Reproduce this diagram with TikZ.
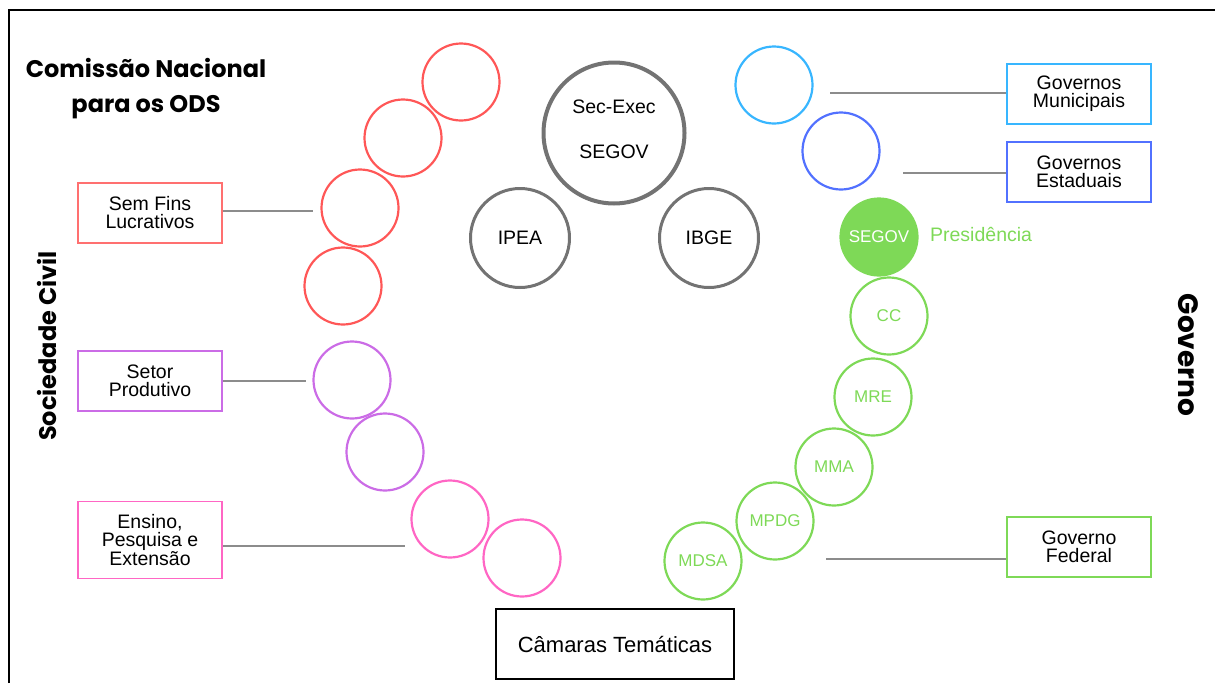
\documentclass[tikz,border=0pt]{standalone}
\usepackage{fontspec}
\setmainfont{Liberation Sans}
\newfontfamily\titlefont{Poppins}
\usetikzlibrary{positioning}

\definecolor{civred}{HTML}{FF5757}
\definecolor{civpurple}{HTML}{CB6CE6}
\definecolor{civpink}{HTML}{FF66C4}
\definecolor{govlight}{HTML}{38B6FF}
\definecolor{govblue}{HTML}{5271FF}
\definecolor{govgreen}{HTML}{7ED957}
\definecolor{ringgray}{HTML}{737373}
\definecolor{linkgray}{HTML}{8C8C8C}

\begin{document}
\begin{tikzpicture}[x=1pt, y=-1pt,
  ring/.style={circle, draw, line width=2.2pt, minimum size=77pt, inner sep=0pt,
    font=\fontsize{17}{17}\selectfont},
  core/.style={circle, draw=ringgray, line width=3pt, minimum size=99pt, inner sep=0pt,
    font=\fontsize{19.5}{19.5}\selectfont},
  orgbox/.style={draw, line width=1.6pt, minimum width=144pt, minimum height=60pt,
    inner sep=0pt, align=center, font=\fontsize{19.5}{18}\selectfont},
  link/.style={draw=linkgray, line width=1.8pt},
  side/.style={font=\titlefont\bfseries\fontsize{24}{35}\selectfont}]
  \useasboundingbox (0,0) rectangle (1215,683);

  % Frame
  \draw[line width=2.5pt] (9,683) -- (9,10) -- (1215,10);

  % Title and sides
  \node[side, align=center] (title) at (146,89) {Comiss\~ao Nacional\\para os ODS};
  \node[side, rotate=90] (civil) at (47,346) {Sociedade Civil};
  \node[side, rotate=-90, font=\titlefont\bfseries\fontsize{28}{28}\selectfont]
    (gov) at (1188,355) {Governo};

  % Secretaria executiva
  \node[core, line width=4pt, minimum size=141pt, align=center, text depth=8pt]
    (secexec) at (614,133) {Sec-Exec\\[26pt]SEGOV};
  \node[core] (ipea) at (520,238) {IPEA};
  \node[core] (ibge) at (709,238) {IBGE};

  % Sociedade civil
  \foreach \n/\x/\y/\c in {civ1/461/82/civred, civ2/403/138/civred,
      civ3/360/208/civred, civ4/343/286/civred, civ5/352/380/civpurple,
      civ6/385/452/civpurple, civ7/450/519/civpink, civ8/522/558/civpink}
    \node[ring, draw=\c] (\n) at (\x,\y) {};

  % Governo
  \node[ring, draw=govlight] (mun) at (774,85) {};
  \node[ring, draw=govblue] (est) at (841,151) {};
  \node[ring, draw=govgreen, fill=govgreen, text=white] (segov) at (879,237) {SEGOV};
  \node[right=8pt of segov, text=govgreen, font=\fontsize{19.5}{19.5}\selectfont,
    yshift=3pt] (pres) {Presid\^encia};
  \foreach \n/\x/\y/\t in {cc/889/316/CC, mre/873/397/MRE, mma/834/467/MMA,
      mpdg/775/521/MPDG, mdsa/703/561/MDSA}
    \node[ring, draw=govgreen, text=govgreen] (\n) at (\x,\y) {\t};

  % Boxes
  \node[orgbox, draw=civred!85] (semfins) at (150,213) {Sem Fins\\Lucrativos};
  \node[orgbox, draw=civpurple] (setor) at (150,381) {Setor\\Produtivo};
  \node[orgbox, draw=civpink, minimum height=77pt] (ensino) at (150,540)
    {Ensino,\\Pesquisa e\\Extens\~ao};
  \node[orgbox, draw=govlight] (munbox) at (1079,94) {Governos\\Municipais};
  \node[orgbox, draw=govblue] (estbox) at (1079,172) {Governos\\Estaduais};
  \node[orgbox, draw=govgreen] (fedbox) at (1079,547) {Governo\\Federal};
  \node[draw, line width=1.6pt, minimum width=238pt, minimum height=70pt,
    font=\fontsize{22}{22}\selectfont] (camaras) at (615,644) {C\^amaras Tem\'aticas};

  % Links
  \coordinate (semfinsend) at (313,211);
  \coordinate (setorend) at (306,381);
  \coordinate (ensinoend) at (405,546);
  \coordinate (munend) at (830,93);
  \coordinate (estend) at (903,173);
  \coordinate (fedend) at (826,559);
  \draw[link] (semfins.east |- semfinsend) -- (semfinsend);
  \draw[link] (setor.east) -- (setorend);
  \draw[link] (ensino.east |- ensinoend) -- (ensinoend);
  \draw[link] (munend) -- (munend -| munbox.west);
  \draw[link] (estend) -- (estend -| estbox.west);
  \draw[link] (fedend) -- (fedend -| fedbox.west);
\end{tikzpicture}
\end{document}
